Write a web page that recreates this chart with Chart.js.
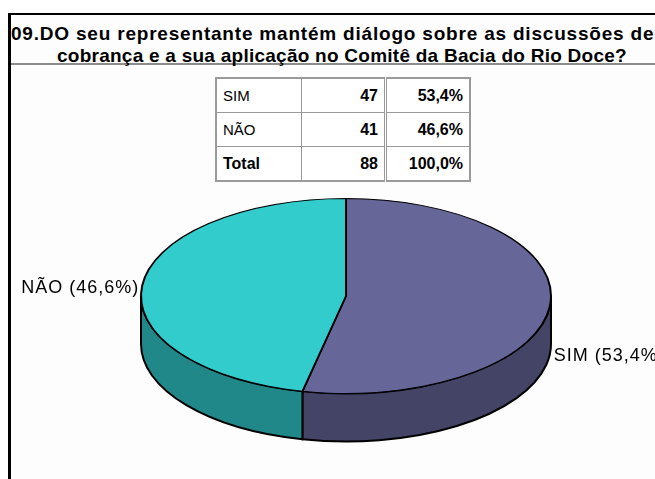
<!DOCTYPE html>
<html lang="pt">
<head>
<meta charset="UTF-8">
<title>09. Diálogo sobre cobrança - Comitê da Bacia do Rio Doce</title>
<script src="https://cdn.jsdelivr.net/npm/chart.js@4"></script>
<style>
  html, body { margin: 0; padding: 0; background: #fff; overflow: hidden; }
  #wrap { position: relative; width: 655px; height: 479px; }
  .frame { position: absolute; left: 8px; top: 13px; width: 720px; height: 520px;
           border-left: 3px solid #000; border-top: 2px solid #000; background: #fdfdfd; }
  .rule { position: absolute; left: 11px; top: 63px; width: 660px; height: 2px; background: #8c8c8c; }
  .title { position: absolute; font: bold 19px "Liberation Sans", Arial, sans-serif;
           line-height: 22px; color: #000; white-space: nowrap; }
  #t1 { left: 11px; top: 23px; letter-spacing: 0.8px; }
  #t2 { left: 57px; top: 45px; letter-spacing: 0.25px; }
  canvas { position: absolute; left: 0; top: 0; }
  table.summary { position: absolute; left: 215px; top: 77px; border-collapse: collapse;
                  font: 15px "Liberation Sans", Arial, sans-serif; background: #fff; }
  table.summary { border: 2px solid #9a9a9a; }
  table.summary td { border: 1px solid #9a9a9a; height: 33px; padding: 0 6px; }
  table.summary td.name { width: 72px; text-align: left; }
  table.summary td.num { width: 70px; text-align: right; font-weight: bold; font-size: 16px; border-right: 3px double #9a9a9a; }
  table.summary td.pct { width: 70px; text-align: right; font-weight: bold; font-size: 16px; }
  table.summary tr.total td { font-weight: bold; font-size: 16px; }
</style>
</head>
<body>
<div id="wrap">
  <div class="frame"></div>
  <div class="rule"></div>
  <div class="title" id="t1">09.DO seu representante mantém diálogo sobre as discussões de</div>
  <div class="title" id="t2">cobrança e a sua aplicação no Comitê da Bacia do Rio Doce?</div>
  <canvas id="pie" width="655" height="479"></canvas>
  <table class="summary" id="summary"></table>
</div>
<script>
// answers and counts
const categories = ['SIM', 'NÃO'];
const counts = [47, 41];
const totalLabel = 'Total';

const total = counts.reduce((a, b) => a + b, 0);
const pct = v => (v / total * 100).toFixed(1).replace('.', ',') + '%';

// summary table
const table = document.getElementById('summary');
categories.forEach((c, i) => {
  const tr = table.insertRow();
  tr.innerHTML = `<td class="name">${c}</td><td class="num">${counts[i]}</td><td class="pct">${pct(counts[i])}</td>`;
});
const totalRow = table.insertRow();
totalRow.className = 'total';
totalRow.innerHTML = `<td class="name">${totalLabel}</td><td class="num">${total}</td><td class="pct">${pct(total)}</td>`;

// flattened pie with an extruded rim
const CX = 346, CY = 296, TILT = 98 / 206, DEPTH = 48;
const sideColors = ['#444466', '#208888'];

const pie3d = {
  id: 'pie3d',
  beforeDatasetsDraw(chart) {
    const ctx = chart.ctx;
    const arcs = chart.getDatasetMeta(0).data;
    ctx.save();
    arcs.forEach((arc, i) => {
      const { startAngle, endAngle, outerRadius: r } = arc.getProps(['startAngle', 'endAngle', 'outerRadius'], true);
      const a1 = Math.max(startAngle, 0), a2 = Math.min(endAngle, Math.PI);
      if (a2 <= a1) return;
      const ry = r * TILT;
      ctx.beginPath();
      ctx.ellipse(CX, CY, r, ry, 0, a1, a2);
      ctx.lineTo(CX + r * Math.cos(a2), CY + ry * Math.sin(a2) + DEPTH);
      ctx.ellipse(CX, CY + DEPTH, r, ry, 0, a2, a1, true);
      ctx.closePath();
      ctx.fillStyle = sideColors[i];
      ctx.fill();
      ctx.lineWidth = 2;
      ctx.strokeStyle = '#000';
      ctx.stroke();
    });
    ctx.restore();
    // squash the top face into an ellipse
    const a = arcs[0];
    ctx.save();
    ctx.translate(CX, CY);
    ctx.scale(1, TILT);
    ctx.translate(-a.x, -a.y);
  },
  afterDatasetsDraw(chart) {
    chart.ctx.restore();
  },
  afterDraw(chart) {
    const ctx = chart.ctx;
    const arcs = chart.getDatasetMeta(0).data;
    ctx.save();
    ctx.font = '18px "Liberation Sans", Arial, sans-serif';
    ctx.letterSpacing = '1px';
    ctx.fillStyle = '#000';
    ctx.textBaseline = 'middle';
    arcs.forEach((arc, i) => {
      const { startAngle, endAngle, outerRadius: r } = arc.getProps(['startAngle', 'endAngle', 'outerRadius'], true);
      const mid = (startAngle + endAngle) / 2;
      const ex = CX + r * Math.cos(mid);
      const ey = CY + r * TILT * Math.sin(mid) + (Math.sin(mid) > 0 ? DEPTH : 0);
      const right = Math.cos(mid) >= 0;
      ctx.textAlign = right ? 'left' : 'right';
      ctx.fillText(`${categories[i]} (${pct(counts[i])})`, right ? ex + 4 : ex - 3, ey + 2);
    });
    ctx.restore();
  }
};

new Chart(document.getElementById('pie'), {
  type: 'pie',
  data: {
    labels: categories,
    datasets: [{
      data: counts,
      backgroundColor: ['#666699', '#33CCCC'],
      borderColor: '#000',
      borderWidth: 2
    }]
  },
  options: {
    responsive: false,
    animation: false,
    events: [],
    layout: { padding: { top: 20, bottom: 47, left: 140, right: 103 } },
    plugins: { legend: { display: false }, tooltip: { enabled: false } }
  },
  plugins: [pie3d]
});
</script>
</body>
</html>
